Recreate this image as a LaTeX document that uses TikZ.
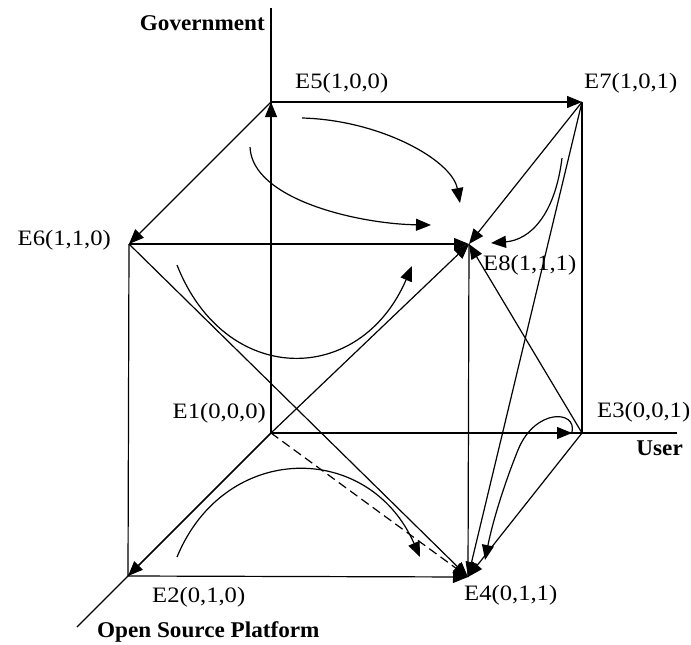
\documentclass[tikz,border=0pt]{standalone}
\usepackage{fontspec}
\setmainfont{Liberation Serif}[FakeStretch=1.12,BoldFeatures={FakeStretch=1.03}]
\usetikzlibrary{arrows.meta}
\begin{document}
\begin{tikzpicture}[x=1pt,y=-1pt,
  edge/.style={line width=1.2pt},
  arr/.style={edge,-{Triangle[length=15pt,width=12pt]}},
  lbl/.style={inner sep=0pt,font=\fontsize{22}{26}\selectfont},
  axlbl/.style={inner sep=0pt,font=\fontsize{22.5}{26}\selectfont\bfseries}]
\useasboundingbox (0,0) rectangle (691,645);

% cube corners
\coordinate (E1) at (271,433);
\coordinate (E2) at (128,576);
\coordinate (E3) at (582,433);
\coordinate (E4) at (468,577);
\coordinate (E5) at (271,102);
\coordinate (E6) at (129,244);
\coordinate (E7) at (582,102);
\coordinate (E8) at (469,244);

% axis ends
\coordinate (gtop) at (271,8);
\coordinate (uend) at (677,433);
\coordinate (oend) at (77,627);
\coordinate (E3a) at (572,433);

% free ends of the curved arrows
\coordinate (c1s) at (302,118);  \coordinate (c1e) at (460,203);
\coordinate (c2s) at (250,147);  \coordinate (c2e) at (431,225);
\coordinate (c3s) at (177,265);  \coordinate (c3e) at (412,266);
\coordinate (c4s) at (562,158);  \coordinate (c4e) at (491,243);
\coordinate (c5s) at (177,557);  \coordinate (c5e) at (420,557);
\coordinate (c6s) at (572,432);  \coordinate (c6e) at (485,560);

% axes
\draw[edge] (gtop) -- (E1);
\draw[edge] (E1) -- (uend);
\draw[edge] (E1) -- (oend);

% plain cube edges
\draw[edge] (E7) -- (E3);
\draw[edge] (E6) -- (E2);
\draw[edge] (E8) -- (E4);

% directed cube edges
\draw[arr] (E5) -- (E7);
\draw[arr] (E5) -- (E6);
\draw[arr] (E1) -- (E5);
\draw[arr] (E1) -- (E2);
\draw[arr] (E1) -- (E3a);
\draw[arr] (E6) -- (E8);
\draw[arr] (E7) -- (E8);
\draw[arr] (E1) -- (E8);
\draw[arr] (E3) -- (E8);
\draw[arr] (E2) -- (E4);
\draw[arr] (E6) -- (E4);
\draw[arr] (E7) -- (E4);
\draw[arr] (E3) -- (E4);
\draw[arr,dash pattern=on 9pt off 5pt] (E1) -- (E4);

% curved transitions
\draw[arr] (c1s) .. controls (380,120) and (452,160) .. (c1e);
\draw[arr] (c2s) .. controls (252,200) and (360,224) .. (c2e);
\draw[arr] (c3s) .. controls (225,387) and (360,387) .. (c3e);
\draw[arr] (c4s) .. controls (555,215) and (530,240) .. (c4e);
\draw[arr] (c5s) .. controls (225,441) and (369,441) .. (c5e);
\draw[arr] (c6s) .. controls (577,410) and (535,408) .. (518,450)
                 .. controls (505,482) and (493,520) .. (c6e);

% labels
\node[axlbl,anchor=east] (lgov) at (265,23) {Government};
\node[axlbl,anchor=east] (luser) at (683,448) {User};
\node[axlbl,anchor=west] (losp) at (97,632) {Open Source Platform};
\node[lbl,anchor=west] (l5) at (295,83) {E5(1,0,0)};
\node[lbl,anchor=west] (l7) at (584,83) {E7(1,0,1)};
\node[lbl,anchor=east] (l6) at (111,240) {E6(1,1,0)};
\node[lbl,anchor=west] (l8) at (483,265) {E8(1,1,1)};
\node[lbl,anchor=east] (l1) at (266,413) {E1(0,0,0)};
\node[lbl,anchor=west] (l3) at (597,412) {E3(0,0,1)};
\node[lbl,anchor=west] (l2) at (152,597) {E2(0,1,0)};
\node[lbl,anchor=west] (l4) at (464,595) {E4(0,1,1)};
\end{tikzpicture}
\end{document}
